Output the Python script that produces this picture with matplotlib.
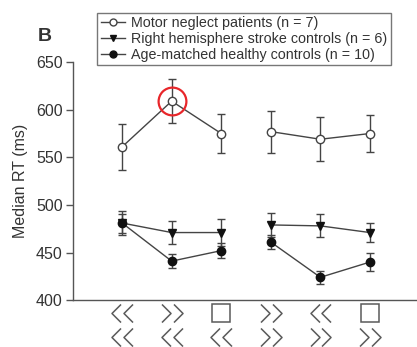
import numpy as np
import matplotlib
matplotlib.use('Agg')
import matplotlib.pyplot as plt
from matplotlib.path import Path
from matplotlib.lines import Line2D
from matplotlib.transforms import ScaledTranslation, blended_transform_factory

# --- データ ---
conditions = [1, 2, 3, 4, 5, 6]
neglect = [561, 609, 575, 577, 569, 575]
neglect_err = [24, 23, 20, 22, 23, 19]
stroke = [481, 471, 471, 479, 478, 471]
stroke_err = [13, 12, 14, 13, 12, 10]
healthy = [481, 441, 452, 461, 424, 440]
healthy_err = [10, 7, 8, 7, 7, 9]

# 刺激 (上段 / 下段)
top_row = ['<<', '>>', 'sq', '>>', '<<', 'sq']
bottom_row = ['<<', '<<', '<<', '>>', '>>', '>>']

labels = ['Motor neglect patients (n = 7)',
          'Right hemisphere stroke controls (n = 6)',
          'Age-matched healthy controls (n = 10)']

plt.rcParams['font.family'] = ['Liberation Sans', 'DejaVu Sans']
line_col = '#444444'
text_col = '#333333'
dark = '#111111'

fig = plt.figure(figsize=(4.17, 3.47), dpi=100)
ax = fig.add_axes([0.174, 0.135, 0.826, 0.686])

kw = dict(color=line_col, lw=1.0, capsize=3, elinewidth=1.0, capthick=1.0, markersize=6)
for sl in (slice(0, 3), slice(3, 6)):
    ax.errorbar(conditions[sl], neglect[sl], yerr=neglect_err[sl], marker='o', mfc='white', mec=line_col, **kw)
    ax.errorbar(conditions[sl], stroke[sl], yerr=stroke_err[sl], marker='v', mfc=dark, mec=dark, **kw)
    ax.errorbar(conditions[sl], healthy[sl], yerr=healthy_err[sl], marker='o', mfc=dark, mec=dark, **kw)

# 赤い丸で強調
ax.plot(conditions[1], neglect[1], marker='o', markersize=20, mfc='none', mec='#e8262a', mew=1.6, zorder=5)

ax.set_xlim(0, 6.95)
ax.set_ylim(400, 650)
ax.set_yticks([400, 450, 500, 550, 600, 650])
ax.set_xticks([])
for s in ['top', 'right']:
    ax.spines[s].set_visible(False)
for s in ['left', 'bottom']:
    ax.spines[s].set_color('#555555')
    ax.spines[s].set_linewidth(1.0)
ax.tick_params(axis='y', direction='out', length=5, width=1.0, color='#555555', labelsize=11.5, labelcolor=text_col, pad=2)
ax.set_ylabel('Median RT (ms)', fontsize=11.5, color=text_col, labelpad=6)

# 矢印刺激 (マーカーで描画)
chev_left = Path([(0.5, 1), (-0.5, 0), (0.5, -1)], [Path.MOVETO, Path.LINETO, Path.LINETO])
chev_right = Path([(-0.5, 1), (0.5, 0), (-0.5, -1)], [Path.MOVETO, Path.LINETO, Path.LINETO])
base = blended_transform_factory(ax.transData, ax.transAxes)
stim_col = '#5a5a5a'

def draw_stim(x, kind, dy_pt):
    if kind == 'sq':
        tr = base + ScaledTranslation(0, dy_pt / 72, fig.dpi_scale_trans)
        ax.plot([x], [0], marker='s', markersize=13, mfc='none', mec=stim_col, mew=1.1,
                transform=tr, clip_on=False)
        return
    m = chev_left if kind == '<<' else chev_right
    for dx in (-4.2, 4.2):
        tr = base + ScaledTranslation(dx / 72, dy_pt / 72, fig.dpi_scale_trans)
        ax.plot([x], [0], marker=m, markersize=13, mfc='none', mec=stim_col, mew=1.1,
                transform=tr, clip_on=False)

for x, t, b in zip(conditions, top_row, bottom_row):
    draw_stim(x, t, -9.6)
    draw_stim(x, b, -26.6)

handles = [Line2D([], [], color=line_col, lw=1.0, marker='o', markersize=5, mfc='white', mec=line_col),
           Line2D([], [], color=line_col, lw=1.0, marker='v', markersize=5, mfc=dark, mec=dark),
           Line2D([], [], color=line_col, lw=1.0, marker='o', markersize=5, mfc=dark, mec=dark)]
leg = fig.legend(handles, labels, loc='upper left', bbox_to_anchor=(0.233, 0.963), fontsize=10.3,
                 frameon=True, fancybox=False, handlelength=1.7, handletextpad=0.4,
                 labelspacing=0.12, borderpad=0.25, borderaxespad=0)
leg.get_frame().set_edgecolor('#555555')
leg.get_frame().set_linewidth(1.0)
for t in leg.get_texts():
    t.set_color(text_col)

fig.text(0.09, 0.895, 'B', fontsize=14, fontweight='bold', color=text_col, ha='left', va='center')

fig.savefig('out.png', dpi=100)
